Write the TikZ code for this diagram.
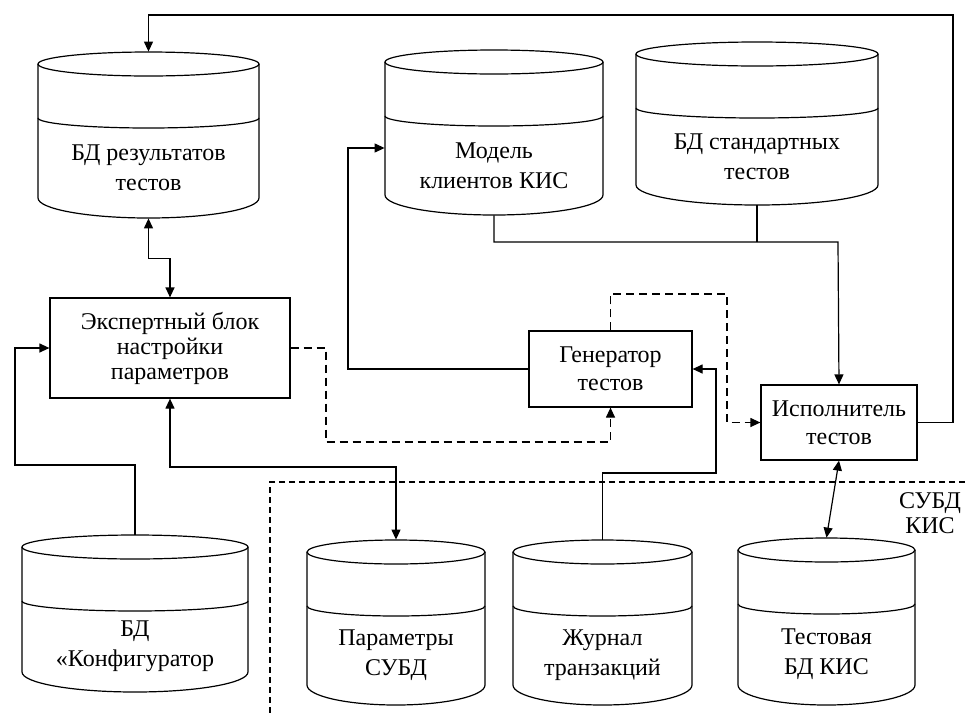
\documentclass[tikz,border=0pt]{standalone}
\usepackage{fontspec}
\setmainfont{Liberation Serif}
\usepackage{tikz}
\usetikzlibrary{arrows.meta,fit,calc}

\tikzset{
  dbline/.style={line width=0.6pt},
  box/.style={draw, line width=0.6pt, align=center, inner sep=2pt, font=\fontsize{12}{14}\selectfont},
  dbtext/.style={align=center, inner sep=0pt, font=\fontsize{12}{15}\selectfont},
  arr/.style={line width=0.6pt, -{Triangle[length=5pt,width=4.5pt]}},
  dblarr/.style={line width=0.6pt, {Triangle[length=5pt,width=4.5pt]}-{Triangle[length=5pt,width=4.5pt]}},
  dasharr/.style={arr, dash pattern=on 4pt off 2.5pt},
}

% cylinder: name, left, right, top, bottom, text
\newcommand{\dbcyl}[6]{%
  \pgfmathsetmacro{\dbrx}{(#3-#2)/4}%
  \pgfmathsetmacro{\dbcx}{(#2+#3)/2}%
  \draw[dbline] (\dbcx,#4+12) ellipse [x radius=\dbrx pt, y radius=6pt];
  \draw[dbline] (#2,#4+12) -- (#2,#5-20)
    arc [start angle=180, end angle=360, x radius=\dbrx pt, y radius=10pt] -- (#3,#4+12);
  \draw[dbline] (#2,#4+66) arc [start angle=180, end angle=360, x radius=\dbrx pt, y radius=5pt];
  \node[fit={(#2,#4)(#3,#5)}, inner sep=0pt] (#1) {};
  \node[dbtext] (#1txt) at (\dbcx,{(#4+66+#5)/2}) {#6};
}

\begin{document}
\begin{tikzpicture}[x=0.5pt, y=-0.5pt]
\useasboundingbox (0,0) rectangle (965,713);

% data bases
\dbcyl{res}{38}{259}{52}{218}{БД результатов\\тестов}
\dbcyl{model}{385}{603}{50}{215}{Модель\\клиентов КИС}
\dbcyl{std}{636}{878}{42}{205}{БД стандартных\\тестов}
\dbcyl{konf}{22}{248}{535}{692}{БД\\«Конфигуратор}
\dbcyl{par}{307}{485}{540}{705}{Параметры\\СУБД}
\dbcyl{jur}{513}{692}{540}{705}{Журнал\\транзакций}
\dbcyl{test}{738}{915}{538}{705}{Тестовая\\БД КИС}

% blocks
\node[box, minimum width=120pt, minimum height=50pt, font=\fontsize{12}{12.5}\selectfont] (exp) at (170,348) {Экспертный блок\\настройки\\параметров};
\node[box, minimum width=81.5pt, minimum height=38pt] (gen) at (610.5,369) {Генератор\\тестов};
\node[box, minimum width=78pt, minimum height=37.5pt] (isp) at (839,422.5) {Исполнитель\\тестов};

% DBMS boundary
\draw[line width=0.6pt, dash pattern=on 3pt off 2pt] (965,482) -- (270,482) -- (270,713);
\node[dbtext, font=\fontsize{12}{12.5}\selectfont] (dbms) at (930,513) {СУБД\\КИС};

% helper points
\coordinate (fbR) at (953,15);
\coordinate (kL) at (15,465);
\coordinate (eD) at (326,442);
\coordinate (gU) at (727,294);
\coordinate (gL) at (348,148);
\coordinate (jn) at (838,242);
\coordinate (jU) at (716,473);
\coordinate (pT) at (396,467);

% connectors
\draw[arr] (isp.east) -| (fbR) -| (res.north);
\draw[dblarr] (res.south) -- ++(0,40) -| (exp.north);
\draw[arr] (konf.north) |- (kL) |- (exp.west);
\draw[dasharr] (exp.east) -| (eD) -| (gen.south);
\draw[dasharr] (gen.north) |- (gU) |- (isp.west);
\draw[arr] (gen.west) -| (gL) -- (gL -| model.west);
\draw[arr] (model.south) |- (jn) -- (isp.north);
\draw[line width=0.6pt] (std.south) -- (std.south |- jn);
\draw[arr] (jur.north) |- (jU) |- (gen.east);
\draw[dblarr] (exp.south) |- (pT) -- (par.north);
\draw[dblarr] (isp.south) -- (test.north);
\end{tikzpicture}
\end{document}
